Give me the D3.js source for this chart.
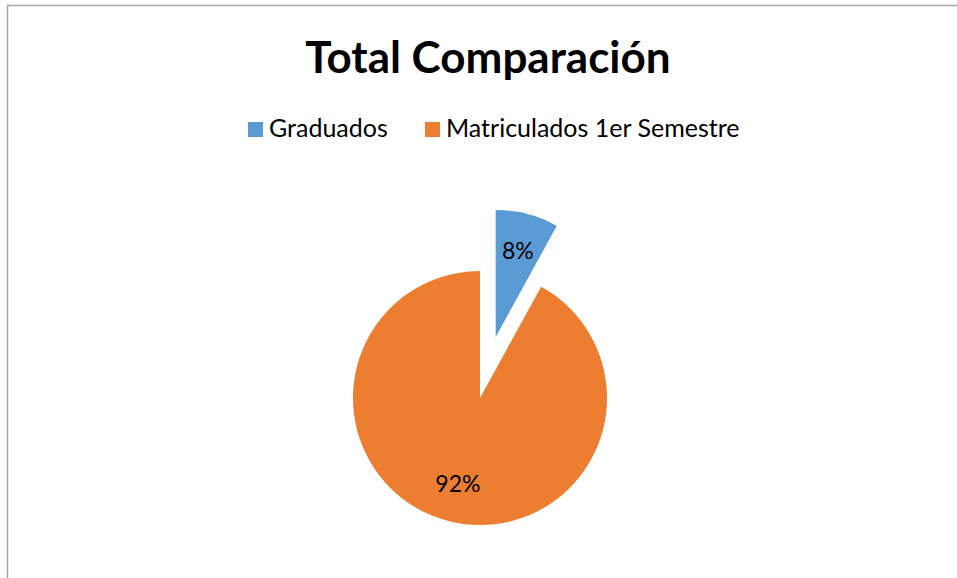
<!DOCTYPE html>
<html lang="es">
<head>
<meta charset="utf-8">
<title>Total Comparación</title>
<script src="https://d3js.org/d3.v7.min.js"></script>
<style>
  body { margin: 0; background: #fff; }
  svg { font-family: Lato, 'Open Sans', sans-serif; }
</style>
</head>
<body>
<div id="chart"></div>
<script>
// data
var categories = ["Graduados", "Matriculados 1er Semestre"];
var values = [8, 92];
var colors = ["#5B9BD5", "#ED7D31"];
var explode = [63, 0];

var width = 957, height = 578;
var cx = 480, cy = 398, radius = 127;

var svg = d3.select("#chart").append("svg")
    .attr("width", width)
    .attr("height", height);

// chart frame (only top + left edge visible)
svg.append("rect")
    .attr("x", 7.5).attr("y", 5.5)
    .attr("width", 1000).attr("height", 1000)
    .attr("fill", "none")
    .attr("stroke", "#a6a6a6")
    .attr("stroke-width", 1.5);

// title
svg.append("text")
    .attr("x", 488).attr("y", 73)
    .attr("text-anchor", "middle")
    .style("font-size", "44px")
    .style("font-weight", "bold")
    .attr("fill", "#000")
    .text("Total Comparación");

// legend
var legendX = [248, 425];
var legend = svg.selectAll("g.legend")
    .data(categories)
    .enter().append("g")
    .attr("class", "legend")
    .attr("transform", function(d, i) { return "translate(" + legendX[i] + ",122)"; });

legend.append("rect")
    .attr("width", 15).attr("height", 15)
    .attr("fill", function(d, i) { return colors[i]; });

legend.append("text")
    .attr("x", 21).attr("y", 15)
    .style("font-size", "25px")
    .attr("fill", "#000")
    .text(function(d) { return d; });

// pie
var total = d3.sum(values);
var pie = d3.pie().sort(null).value(function(d) { return d; });
var arc = d3.arc().innerRadius(0).outerRadius(radius);
var labelArc = d3.arc().innerRadius(radius * 0.7).outerRadius(radius * 0.7);

var slices = svg.append("g")
    .attr("transform", "translate(" + cx + "," + cy + ")")
    .selectAll("g.slice")
    .data(pie(values))
    .enter().append("g")
    .attr("class", "slice")
    .attr("transform", function(d, i) {
      var a = (d.startAngle + d.endAngle) / 2;
      return "translate(" + (Math.sin(a) * explode[i]) + "," + (-Math.cos(a) * explode[i]) + ")";
    });

slices.append("path")
    .attr("d", arc)
    .attr("fill", function(d, i) { return colors[i]; });

slices.append("text")
    .attr("transform", function(d) { return "translate(" + labelArc.centroid(d) + ")"; })
    .attr("text-anchor", "middle")
    .attr("dy", "0.35em")
    .style("font-size", "23px")
    .attr("fill", "#000")
    .text(function(d) { return Math.round(d.value / total * 100) + "%"; });
</script>
</body>
</html>
